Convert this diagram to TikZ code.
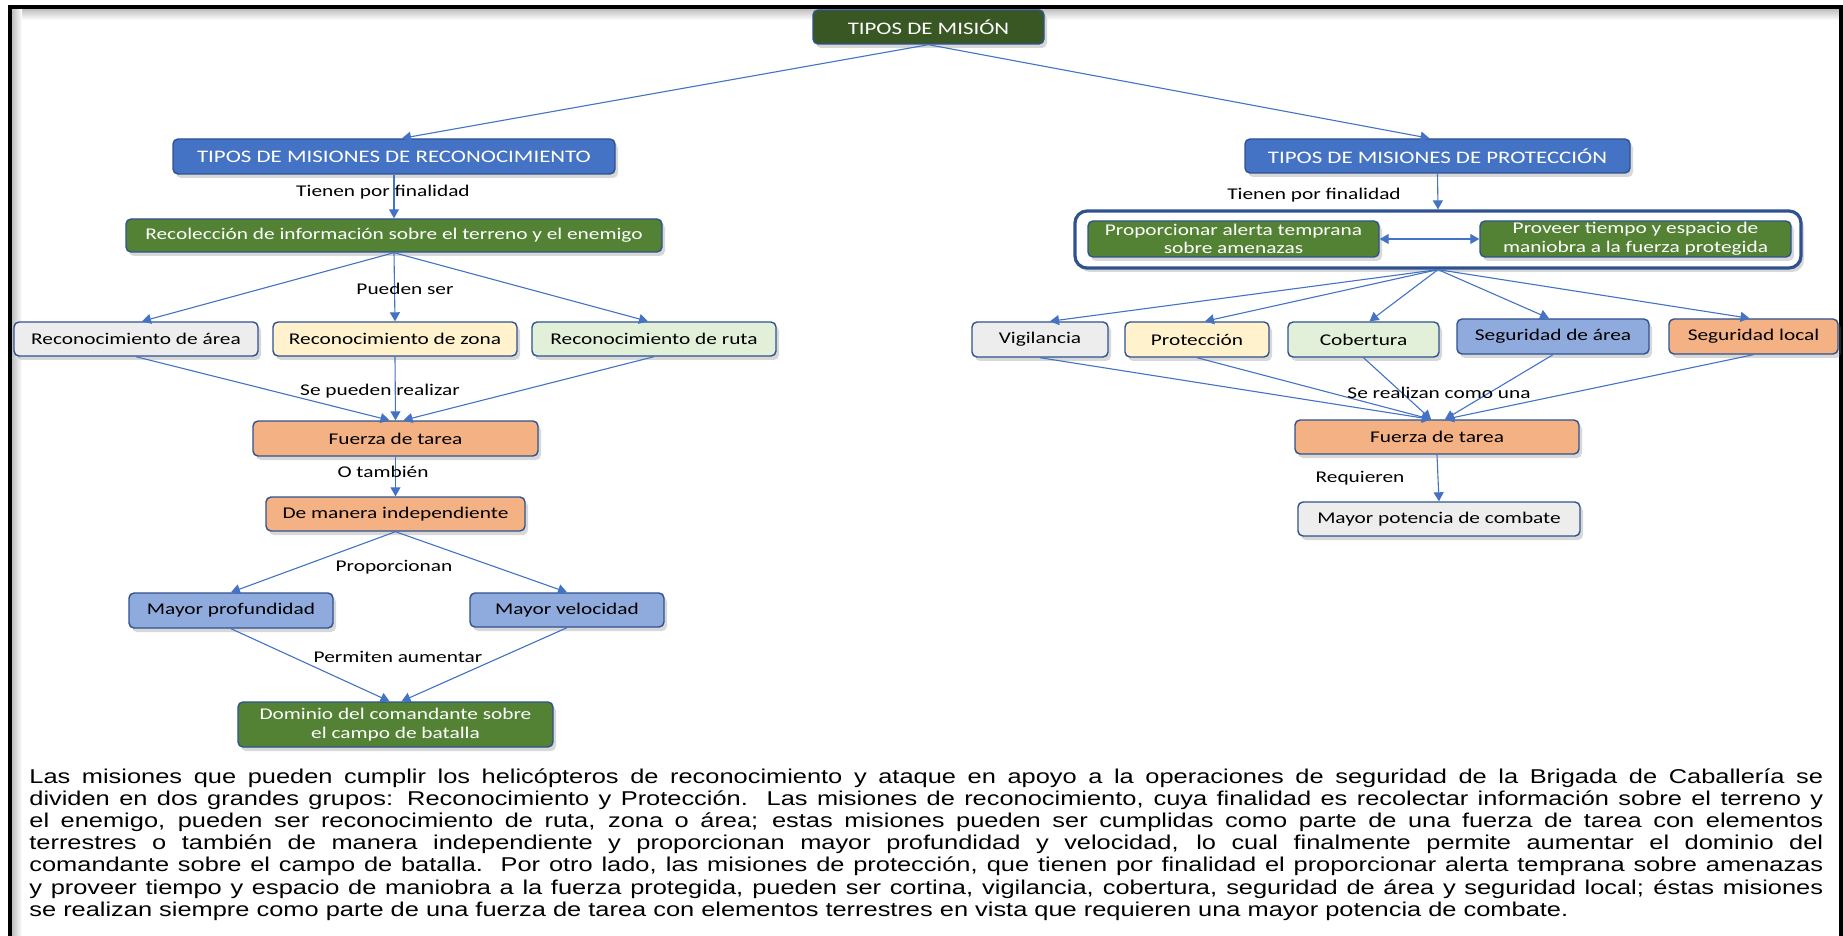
\documentclass[tikz,border=0pt]{standalone}
\usepackage{fontspec}
\setmainfont{Carlito}
\newfontfamily\calf[FakeStretch=1.3]{Carlito}
\newfontfamily\arif[FakeStretch=1.27]{Liberation Sans}
\usetikzlibrary{arrows.meta,shadows}
\definecolor{dgreen}{HTML}{385723}
\definecolor{mgreen}{HTML}{548235}
\definecolor{hblue}{HTML}{4472C4}
\definecolor{bord}{HTML}{2F528F}
\definecolor{lgray}{HTML}{EDEDED}
\definecolor{lyellow}{HTML}{FFF2CC}
\definecolor{lgreen}{HTML}{E2F0D9}
\definecolor{mblue}{HTML}{8FAADC}
\definecolor{orng}{HTML}{F4B183}
\definecolor{lineblue}{HTML}{4472C4}
\begin{document}
\begin{tikzpicture}[x=0.5pt,y=-0.5pt,
  sz/.style 2 args={minimum width=#1*0.5pt,minimum height=#2*0.5pt},
  box/.style={draw=bord, line width=0.7pt, rounded corners=2.5pt, align=center,
    inner sep=0pt, font=\calf\fontsize{8.2pt}{9.3pt}\selectfont,
    drop shadow={shadow xshift=1.5pt, shadow yshift=-2pt, opacity=0.3}},
  hdr/.style={box, font=\calf\fontsize{8.8pt}{10pt}\selectfont, text=white},
  lbl/.style={font=\calf\fontsize{8.2pt}{9.3pt}\selectfont, inner sep=0pt, text=black},
  conn/.style={draw=lineblue, line width=0.55pt, -{Triangle[width=5pt,length=4.5pt]}},
  dbl/.style={draw=lineblue, line width=0.55pt, {Triangle[width=5pt,length=4.5pt]}-{Triangle[width=5pt,length=4.5pt]}},
  para/.style={anchor=base west, inner sep=0pt, font=\arif\fontsize{10pt}{11pt}\selectfont}
]
\useasboundingbox (0,0) rectangle (1843,936);
\fill[white] (0,0) rectangle (1843,936);
% frame
\shade[top color=black!25, bottom color=white] (12,9) rectangle (1839,20);
\shade[left color=black!25, right color=white] (12,9) rectangle (22,936);
\draw[line width=2pt] (10,936) -- (10,7) -- (1841,7) -- (1841,936);

% top
\node[hdr, fill=dgreen, sz={231}{34}] (mision) at (928.5,27) {TIPOS DE MISIÓN};
\node[hdr, fill=hblue, sz={442}{35}] (recon) at (394,156.5) {TIPOS DE MISIONES DE RECONOCIMIENTO};
\node[hdr, fill=hblue, sz={385}{34}] (prot) at (1437.5,156) {TIPOS DE MISIONES DE PROTECCIÓN};

% left branch
\node[box, fill=mgreen, text=white, sz={536}{33}] (recol) at (394,235.5) {Recolección de información sobre el terreno y el enemigo};
\node[box, fill=lgray, sz={244}{34}] (area) at (136,339) {Reconocimiento de área};
\node[box, fill=lyellow, sz={244}{34}] (zona) at (395,339) {Reconocimiento de zona};
\node[box, fill=lgreen, sz={244}{34}] (ruta) at (654,339) {Reconocimiento de ruta};
\node[box, fill=orng, sz={285}{35}] (fuerzaL) at (395.5,438.5) {Fuerza de tarea};
\node[box, fill=orng, sz={259}{34}] (indep) at (395.5,514) {De manera independiente};
\node[box, fill=mblue, sz={204}{35}] (prof) at (231,610.5) {Mayor profundidad};
\node[box, fill=mblue, sz={194}{34}] (vel) at (567,610) {Mayor velocidad};
\node[box, fill=mgreen, text=white, sz={315}{45}] (dominio) at (395.5,724.5) {Dominio del comandante sobre\\el campo de batalla};

% right branch
\node[draw=bord, line width=1.6pt, rounded corners=6pt, sz={726}{57}, inner sep=0pt,
  drop shadow={shadow xshift=1.5pt, shadow yshift=-2pt, opacity=0.3}, fill=white] (cont) at (1438,239.5) {};
\node[box, fill=mgreen, text=white, sz={291}{36}] (alerta) at (1233.5,239) {Proporcionar alerta temprana\\sobre amenazas};
\node[box, fill=mgreen, text=white, sz={311}{36}] (proveer) at (1635.5,239) {Proveer tiempo y espacio de\\maniobra a la fuerza protegida};
\node[box, fill=lgray, sz={136}{35}] (vig) at (1040,339.5) {Vigilancia};
\node[box, fill=lyellow, sz={144}{35}] (protec) at (1197,339.5) {Protección};
\node[box, fill=lgreen, sz={151}{35}] (cob) at (1363.5,339.5) {Cobertura};
\node[box, fill=mblue, sz={192}{35}] (segA) at (1553,336.5) {Seguridad de área};
\node[box, fill=orng, sz={169}{35}] (segL) at (1753.5,336.5) {Seguridad local};
\node[box, fill=orng, sz={284}{34}] (fuerzaR) at (1437,437) {Fuerza de tarea};
\node[box, fill=lgray, sz={282}{34}] (potencia) at (1439,519) {Mayor potencia de combate};

% connectors
\draw[conn] (mision.south) -- ([xshift=4pt]recon.north);
\draw[conn] (mision.south) -- ([xshift=-4pt]prot.north);
\draw[conn] (recon.south) -- (recol.north);
\draw[conn] (recol.south) -- ([xshift=3pt]area.north);
\draw[conn] (recol.south) -- (zona.north);
\draw[conn] (recol.south) -- ([xshift=-3pt]ruta.north);
\draw[conn] (area.south) -- ([xshift=-3pt]fuerzaL.north);
\draw[conn] (zona.south) -- (fuerzaL.north);
\draw[conn] (ruta.south) -- ([xshift=4pt]fuerzaL.north);
\draw[conn] (fuerzaL.south) -- (indep.north);
\draw[conn] (indep.south) -- (prof.north);
\draw[conn] (indep.south) -- (vel.north);
\draw[conn] (prof.south) -- ([xshift=-3pt]dominio.north);
\draw[conn] (vel.south) -- ([xshift=3pt]dominio.north);

\draw[conn] (prot.south) -- (cont.north);
\draw[dbl] (alerta.east) -- (proveer.west);
\draw[conn] (cont.south) -- ([xshift=5pt]vig.north);
\draw[conn] (cont.south) -- ([xshift=4pt]protec.north);
\draw[conn] (cont.south) -- ([xshift=3pt]cob.north);
\draw[conn] (cont.south) -- ([xshift=-2pt]segA.north);
\draw[conn] (cont.south) -- ([xshift=-2pt]segL.north);
\draw[conn] (vig.south) -- ([xshift=-3pt]fuerzaR.north);
\draw[conn] (protec.south) -- ([xshift=-3pt]fuerzaR.north);
\draw[conn] (cob.south) -- ([xshift=-3pt]fuerzaR.north);
\draw[conn] (segA.south) -- ([xshift=4pt]fuerzaR.north);
\draw[conn] (segL.south) -- ([xshift=4pt]fuerzaR.north);
\draw[conn] (fuerzaR.south) -- (potencia.north);

% labels
\node[lbl] (t1) at (383,192) {Tienen por finalidad};
\node[lbl] (t2) at (405,289) {Pueden ser};
\node[lbl] (t3) at (380,391) {Se pueden realizar};
\node[lbl] (t4) at (383,472) {O también};
\node[lbl] (t5) at (394,567) {Proporcionan};
\node[lbl] (t6) at (398,657) {Permiten aumentar};
\node[lbl] (t7) at (1314,195) {Tienen por finalidad};
\node[lbl] (t8) at (1439,393) {Se realizan como una};
\node[lbl] (t9) at (1360,478) {Requieren};

% paragraph
\node[para] (p1) at (29,783) {\makebox[897pt][s]{Las misiones que pueden cumplir los helicópteros de reconocimiento y ataque en apoyo a la operaciones de seguridad de la Brigada de Caballería se}};
\node[para] (p2) at (29,805.2) {\makebox[897pt][s]{dividen en dos grandes grupos: Reconocimiento y Protección.\ \ Las misiones de reconocimiento, cuya finalidad es recolectar información sobre el terreno y}};
\node[para] (p3) at (29,827.4) {\makebox[897pt][s]{el enemigo, pueden ser reconocimiento de ruta, zona o área; estas misiones pueden ser cumplidas como parte de una fuerza de tarea con elementos}};
\node[para] (p4) at (29,849.6) {\makebox[897pt][s]{terrestres o también de manera independiente y proporcionan mayor profundidad y velocidad, lo cual finalmente permite aumentar el dominio del}};
\node[para] (p5) at (29,871.8) {\makebox[897pt][s]{comandante sobre el campo de batalla.\ \ Por otro lado, las misiones de protección, que tienen por finalidad el proporcionar alerta temprana sobre amenazas}};
\node[para] (p6) at (29,894) {\makebox[897pt][s]{y proveer tiempo y espacio de maniobra a la fuerza protegida, pueden ser cortina, vigilancia, cobertura, seguridad de área y seguridad local; éstas misiones}};
\node[para] (p7) at (29,916.2) {se realizan siempre como parte de una fuerza de tarea con elementos terrestres en vista que requieren una mayor potencia de combate.};
\end{tikzpicture}
\end{document}
